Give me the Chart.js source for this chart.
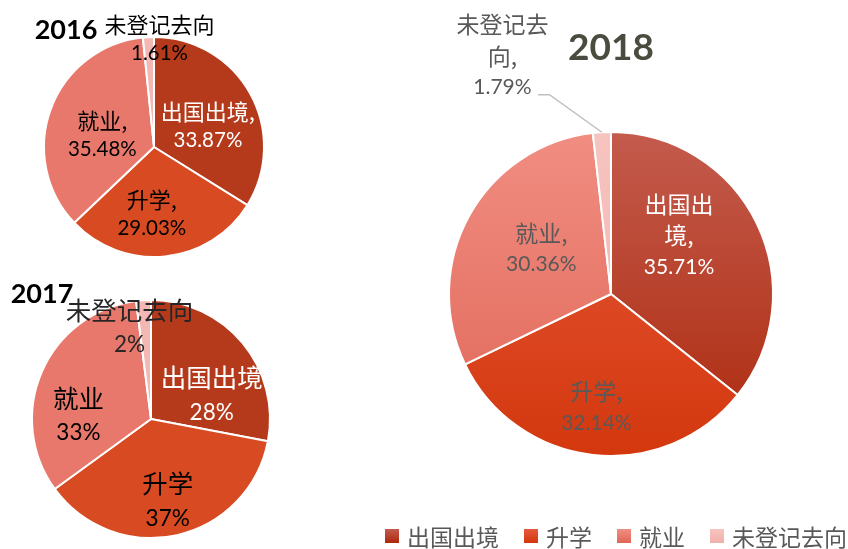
<!DOCTYPE html>
<html>
<head>
<meta charset="utf-8">
<script src="https://cdn.jsdelivr.net/npm/chart.js@4.4.1/dist/chart.umd.min.js"></script>
<style>
  body { margin: 0; background: #fff; width: 848px; height: 549px; position: relative; overflow: hidden;
         font-family: "Noto Sans CJK SC", sans-serif; }
  canvas { position: absolute; left: 0; top: 0; }
  .title { position: absolute; font-family: Lato, "Noto Sans", sans-serif; font-weight: bold; line-height: 1;
           transform: translate(-50%, -50%); white-space: nowrap; }
  #legend { position: absolute; left: 385px; top: 522px; height: 28px; width: max-content; display: flex;
            align-items: center; color: #595959; font-size: 23px; line-height: 1; white-space: nowrap; }
  #legend .box { width: 14px; height: 14px; margin-right: 8px; flex-shrink: 0; }
  #legend .item { display: flex; align-items: center; margin-right: 25px; flex-shrink: 0; }
</style>
</head>
<body>
<canvas id="c2016" width="848" height="549"></canvas>
<canvas id="c2017" width="848" height="549"></canvas>
<canvas id="c2018" width="848" height="549"></canvas>
<div class="title" style="left:66px;top:28px;font-size:27px;color:#000;">2016</div>
<div class="title" style="left:42px;top:292px;font-size:27px;color:#000;">2017</div>
<div class="title" style="left:611px;top:45px;font-size:37px;color:#4B4B3F;">2018</div>
<div id="legend"></div>
<script>
const categories = ["出国出境", "升学", "就业", "未登记去向"];
const values2016 = [33.87, 29.03, 35.48, 1.61];
const values2017 = [28, 37, 33, 2];
const values2018 = [35.71, 32.14, 30.36, 1.79];

const W = 848, H = 549;

const flatColors = ["#B53A1B", "#D84A22", "#E9786C", "#F3B8B3"];
const gradColors = [
  ["#C45C4E", "#AC280B"],
  ["#E65A3C", "#D3370D"],
  ["#F18E82", "#DF6657"],
  ["#F6C4C0", "#F1B0AA"]
];

// text drawn inside / next to the slices
const sliceLabels = {
  id: "sliceLabels",
  afterDatasetsDraw(chart, args, opts) {
    const ctx = chart.ctx;
    const arcs = chart.getDatasetMeta(0).data;
    const { x, y, outerRadius: r } = arcs[0].getProps(["x", "y", "outerRadius"], true);
    ctx.save();
    ctx.textAlign = "center";
    ctx.textBaseline = "middle";
    arcs.forEach((arc, i) => {
      const lines = opts.lines(i);
      const bx = x + opts.spots[i][0] * r;
      const by = y + opts.spots[i][1] * r;
      const gap = opts.gap;
      ctx.fillStyle = opts.colors[i];
      lines.forEach((line, j) => {
        const cjk = /[\u4e00-\u9fff]/.test(line);
        ctx.font = cjk ? opts.cjkSize + 'px "Noto Sans CJK SC"' : opts.numSize + "px Lato";
        ctx.fillText(line, bx, by - (lines.length - 1) * gap / 2 + j * gap);
      });
    });
    if (opts.leader) {
      const L = opts.leader;
      const a = arcs[L.index];
      const mid = (a.startAngle + a.endAngle) / 2;
      ctx.strokeStyle = "#BFBFBF";
      ctx.lineWidth = 1.5;
      ctx.beginPath();
      ctx.moveTo(x + L.from[0] * r, y + L.from[1] * r);
      ctx.lineTo(x + L.elbow[0] * r, y + L.elbow[1] * r);
      ctx.lineTo(x + Math.cos(mid) * r, y + Math.sin(mid) * r);
      ctx.stroke();
    }
    ctx.restore();
  }
};

function pct(vals, d) {
  return i => vals[i].toFixed(d) + "%";
}

function makePie(id, values, cx, cy, r, colors, labelOpts) {
  const s = r + 6;
  return new Chart(document.getElementById(id), {
    type: "pie",
    data: {
      labels: categories,
      datasets: [{
        data: values,
        backgroundColor: colors,
        borderColor: "#FFFFFF",
        borderWidth: 2,
        hoverOffset: 0
      }]
    },
    options: {
      responsive: false,
      animation: false,
      events: [],
      radius: r,
      layout: { padding: { left: cx - s, right: W - cx - s, top: cy - s, bottom: H - cy - s } },
      plugins: {
        legend: { display: false },
        tooltip: { enabled: false },
        sliceLabels: labelOpts
      }
    },
    plugins: [sliceLabels]
  });
}

const p16 = pct(values2016, 2);
makePie("c2016", values2016, 154, 147, 110, flatColors, {
  lines: i => i < 3 ? [categories[i] + ",", p16(i)] : [categories[i], p16(i)],
  spots: [[0.49, -0.19], [-0.02, 0.61], [-0.47, -0.11], [0.05, -0.98]],
  colors: ["#FFFFFF", "#000000", "#000000", "#000000"],
  cjkSize: 22, numSize: 20.5, gap: 29
});

const p17 = pct(values2017, 0);
makePie("c2017", values2017, 151, 419, 119, flatColors, {
  lines: i => [categories[i], p17(i)],
  spots: [[0.51, -0.20], [0.14, 0.69], [-0.61, -0.03], [-0.18, -0.77]],
  colors: ["#FFFFFF", "#000000", "#000000", "#262626"],
  cjkSize: 25.5, numSize: 22.5, gap: 35
});

const p18 = pct(values2018, 2);
const grad18 = ctx => {
  const area = ctx.chart.chartArea;
  const c = gradColors[ctx.dataIndex];
  if (!area) return c[0];
  const g = ctx.chart.ctx.createLinearGradient(0, area.top, 0, area.bottom);
  g.addColorStop(0, c[0]);
  g.addColorStop(1, c[1]);
  return g;
};
makePie("c2018", values2018, 611, 294, 162, grad18, {
  lines: i => {
    if (i === 0) return ["出国出", "境,", p18(i)];
    if (i === 3) return ["未登记去", "向,", p18(i)];
    return [categories[i] + ",", p18(i)];
  },
  spots: [[0.42, -0.36], [-0.09, 0.70], [-0.43, -0.28], [-0.67, -1.47]],
  colors: ["#FFFFFF", "#595959", "#595959", "#595959"],
  cjkSize: 23, numSize: 21, gap: 31.5,
  leader: { index: 3, from: [-0.45, -1.23], elbow: [-0.38, -1.23] }
});

// legend
const legend = document.getElementById("legend");
categories.forEach((cat, i) => {
  const item = document.createElement("div");
  item.className = "item";
  const box = document.createElement("div");
  box.className = "box";
  box.style.background = "linear-gradient(" + gradColors[i][0] + "," + gradColors[i][1] + ")";
  const txt = document.createElement("span");
  txt.textContent = cat;
  item.appendChild(box);
  item.appendChild(txt);
  legend.appendChild(item);
});
</script>
</body>
</html>
